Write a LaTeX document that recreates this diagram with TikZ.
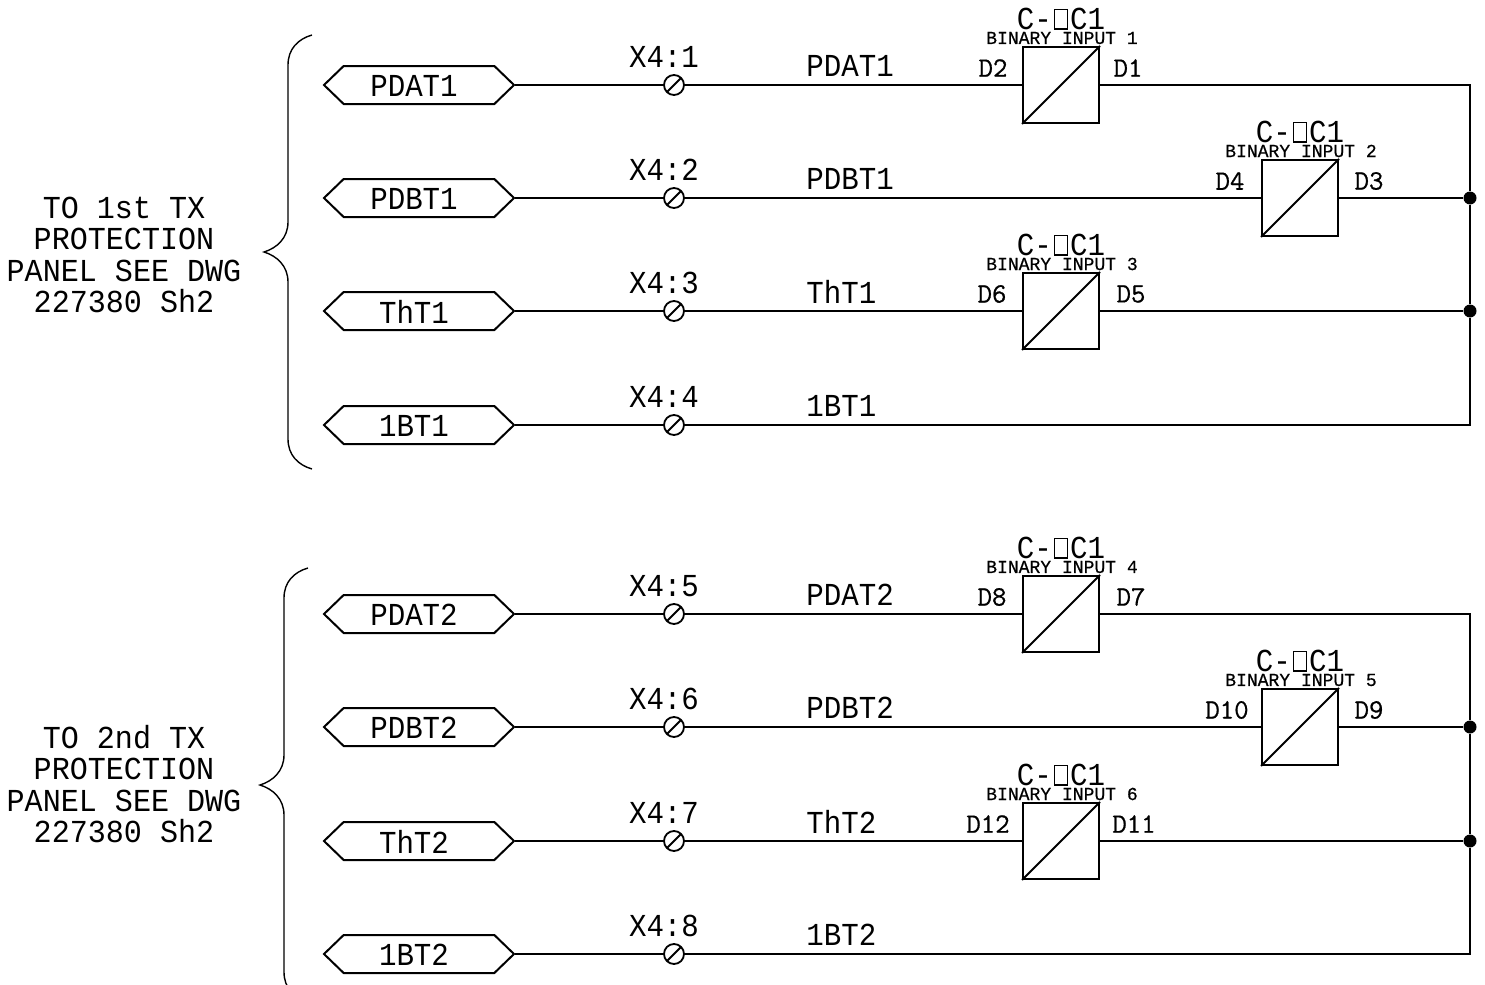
\documentclass[tikz,border=0pt]{standalone}
\usepackage{fontspec}
\usetikzlibrary{shapes.symbols}
\newfontfamily\cadfont[FakeStretch=0.91]{Liberation Mono}
\newfontfamily\cadside[FakeStretch=0.94]{Liberation Mono}
\newfontfamily\cadsmall[FakeStretch=0.98,FakeBold=0.5]{Liberation Mono}
\newfontfamily\cadpin[FakeBold=0.7]{Latin Modern Mono}
\newcommand\cadsq{{\kern1.1pt\fboxrule=0.7pt\fboxsep=0pt\raisebox{0.7pt}{\fbox{\rule{0pt}{9pt}\rule{5.6pt}{0pt}}}\kern1.1pt}}
\tikzset{
  wire/.style={line width=1pt},
  bracket/.style={line width=0.7pt},
  tag/.style={draw,line width=1pt,shape=signal,signal to=west and east,signal pointer angle=88,minimum width=95pt,minimum height=19pt,inner sep=0pt},
  terminal/.style={draw,line width=0.9pt,circle,minimum size=10pt,inner sep=0pt,path picture={\draw[line width=0.9pt] (path picture bounding box.south west) -- (path picture bounding box.north east);}},
  conv/.style={draw,line width=1pt,rectangle,minimum size=38pt,inner sep=0pt},
  junction/.style={fill,circle,minimum size=6.5pt,inner sep=0pt},
  cad/.style={inner sep=0pt,font=\cadfont\fontsize{16}{16}\selectfont},
  cadlabel/.style={inner sep=0pt,font=\cadsmall\fontsize{9.2}{9.2}\selectfont},
  pin/.style={inner sep=0pt,font=\cadpin\fontsize{14}{14}\selectfont},
  side/.style={inner sep=0pt,align=center,font=\cadside\fontsize{16}{15.6}\selectfont},
}
% id, row y, tag text, terminal, wire label
\newcommand\sigrow[5]{%
  \node[tag] (tag#1) at (419,#2) {};
  \node[cad] (tagtext#1) at (414,#2+1) {#3};
  \node[terminal] (term#1) at (674,#2) {};
  \node[cad] (termtext#1) at (664,#2-28) {X4:#4};
  \node[cad,anchor=west] (wiretext#1) at (806,#2-19) {#5};
  \draw[wire] (tag#1.east) -- (term#1.west);
}
% id, box x, row y, number, left pin x, left pin, right pin x, right pin
\newcommand\convbox[8]{%
  \node[conv] (box#1) at (#2,#3) {};
  \draw[wire] (box#1.south west) -- (box#1.north east);
  \node[cad] (boxname#1) at (#2,#3-66) {C-\cadsq C1};
  \node[cadlabel] (boxlabel#1) at (#2+1,#3-47) {BINARY INPUT #4};
  \node[pin] (pinl#1) at (#5,#3-17) {#6};
  \node[pin] (pinr#1) at (#7,#3-17) {#8};
  \draw[wire] (term#1.east) -- (box#1.west);
}
\newcommand\bracepath[2]{%
  \draw[bracket] (#1+24,#2) .. controls (#1+10,#2+4) and (#1,#2+14) .. (#1,#2+30)
    -- (#1,#2+187) .. controls (#1,#2+203) and (#1-11,#2+213) .. (#1-24,#2+217)
    .. controls (#1-11,#2+221) and (#1,#2+231) .. (#1,#2+247)
    -- (#1,#2+404) .. controls (#1,#2+420) and (#1+10,#2+430) .. (#1+24,#2+434);
}
\begin{document}
\begin{tikzpicture}[x=0.5pt,y=-0.5pt]
\useasboundingbox (0,0) rectangle (1485,985);
\clip (0,0) rectangle (1485,985);
% group 1
\sigrow{a}{85}{PDAT1}{1}{PDAT1}
\sigrow{b}{198}{PDBT1}{2}{PDBT1}
\sigrow{c}{311}{ThT1}{3}{ThT1}
\sigrow{d}{425}{1BT1}{4}{1BT1}
\convbox{a}{1061}{85}{1}{993}{D2}{1128}{D1}
\convbox{b}{1300}{198}{2}{1230}{D4}{1369}{D3}
\convbox{c}{1061}{311}{3}{992}{D6}{1131}{D5}
\coordinate (busa) at (1470,85);
\node[junction] (busb) at (1470,198) {};
\node[junction] (busc) at (1470,311) {};
\coordinate (busd) at (1470,425);
\draw[wire] (boxa.east) -- (busa) -- (busb) -- (busc) -- (busd) -- (termd.east);
\draw[wire] (boxb.east) -- (busb);
\draw[wire] (boxc.east) -- (busc);
\bracepath{288}{35}
\node[side] (sidea) at (124,255) {TO 1st TX\\PROTECTION\\PANEL SEE DWG\\227380 Sh2};
% group 2
\sigrow{e}{614}{PDAT2}{5}{PDAT2}
\sigrow{f}{727}{PDBT2}{6}{PDBT2}
\sigrow{g}{841}{ThT2}{7}{ThT2}
\sigrow{h}{954}{1BT2}{8}{1BT2}
\convbox{e}{1061}{614}{4}{992}{D8}{1131}{D7}
\convbox{f}{1300}{727}{5}{1227}{D10}{1369}{D9}
\convbox{g}{1061}{841}{6}{988}{D12}{1134}{D11}
\coordinate (buse) at (1470,614);
\node[junction] (busf) at (1470,727) {};
\node[junction] (busg) at (1470,841) {};
\coordinate (bush) at (1470,954);
\draw[wire] (boxe.east) -- (buse) -- (busf) -- (busg) -- (bush) -- (termh.east);
\draw[wire] (boxf.east) -- (busf);
\draw[wire] (boxg.east) -- (busg);
\bracepath{284}{568}
\node[side] (sideb) at (124,784) {TO 2nd TX\\PROTECTION\\PANEL SEE DWG\\227380 Sh2};
\end{tikzpicture}
\end{document}
